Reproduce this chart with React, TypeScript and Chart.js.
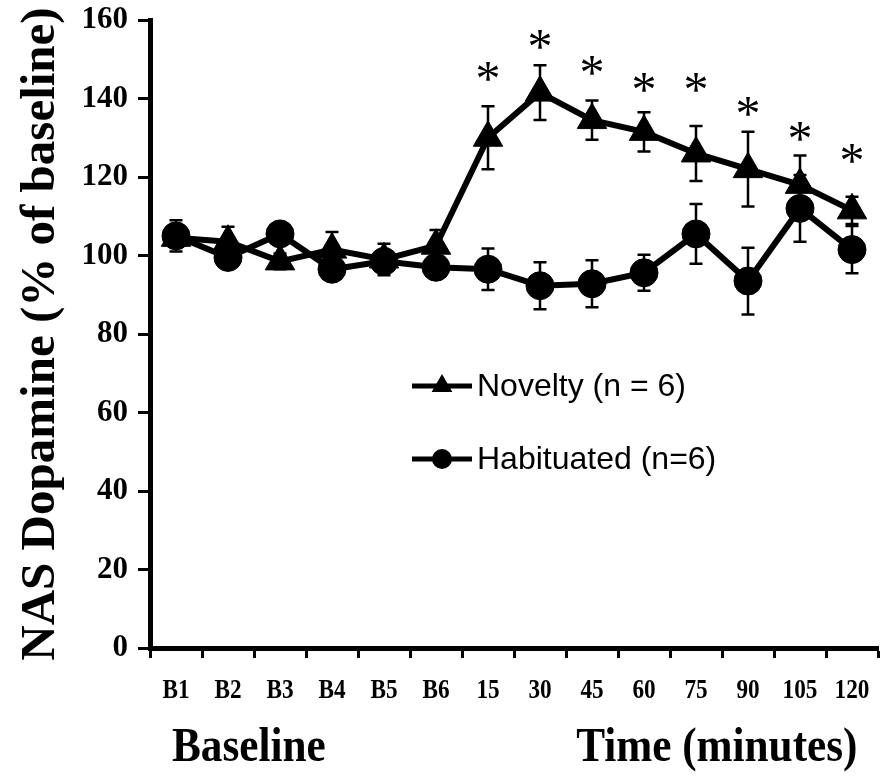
import React, { useEffect, useRef } from "react";
import { Chart, registerables } from "chart.js";

Chart.register(...registerables);

// Sampling points: six baseline samples, then minutes after exposure
const timeLabels = ["B1", "B2", "B3", "B4", "B5", "B6", "15", "30", "45", "60", "75", "90", "105", "120"];

// NAS dopamine, % of baseline (mean and SEM)
const noveltyMean = [104.5, 103.5, 98.5, 101.5, 99, 102.5, 130, 141.5, 134.5, 131.5, 126, 122, 118, 111.5];
const noveltySem = [2.5, 3.8, 2, 4.5, 4, 4, 8, 7, 5, 5, 7, 9.5, 7.5, 3.5];
const habituatedMean = [105, 99.5, 105.5, 96.5, 98.5, 97, 96.5, 92.3, 92.8, 95.6, 105.5, 93.5, 112, 101.5];
const habituatedSem = [4, 2, 2, 2, 2, 2, 5.3, 6, 6, 4.6, 7.6, 8.5, 8.5, 6];

// Level (in % of baseline) at which each significance asterisk is printed
const significanceLevel = [null, null, null, null, null, null, 147, 155, 148.5, 144, 144, 138, 131.5, 126];

const seriesNames = ["Novelty (n = 6)", "Habituated (n=6)"];
const yAxisTitle = "NAS Dopamine (% of baseline)";
const yMin = 0;
const yMax = 160;
const yStep = 20;

// Phase captions under the x axis, anchored at a category position
const phaseCaptions = ["Baseline", "Time (minutes)"];
const phaseAnchors = [1.4, 10.4];

const SERIF = "'Liberation Serif', 'Times New Roman', serif";
const SANS = "'Liberation Sans', Arial, sans-serif";

function drawMarker(ctx: CanvasRenderingContext2D, style: string, x: number, y: number, r: number) {
  ctx.beginPath();
  if (style === "triangle") {
    ctx.moveTo(x, y - r);
    ctx.lineTo(x + r * 0.866, y + r / 2);
    ctx.lineTo(x - r * 0.866, y + r / 2);
    ctx.closePath();
  } else {
    ctx.arc(x, y, r, 0, Math.PI * 2);
  }
  ctx.fill();
}

// Condensed text: draw with a horizontal squeeze around the anchor point
function condensedText(ctx: CanvasRenderingContext2D, text: string, x: number, y: number, squeeze: number) {
  ctx.save();
  ctx.translate(x, y);
  ctx.scale(squeeze, 1);
  ctx.fillText(text, 0, 0);
  ctx.restore();
}

const errorBarPlugin = {
  id: "errorBars",
  beforeDatasetsDraw(chart: any, _args: any, opts: any) {
    const { ctx } = chart;
    const yScale = chart.scales.y;
    const sems: number[][] = opts.sems || [];
    ctx.save();
    ctx.strokeStyle = "#000";
    ctx.lineWidth = 2.5;
    chart.data.datasets.forEach((ds: any, di: number) => {
      const meta = chart.getDatasetMeta(di);
      const errs = sems[di];
      if (!errs) return;
      meta.data.forEach((pt: any, i: number) => {
        const v = ds.data[i];
        const e = errs[i];
        const yTop = yScale.getPixelForValue(v + e);
        const yBot = yScale.getPixelForValue(v - e);
        const x = pt.x;
        const cap = 6.5;
        ctx.beginPath();
        ctx.moveTo(x, yTop);
        ctx.lineTo(x, yBot);
        ctx.moveTo(x - cap, yTop);
        ctx.lineTo(x + cap, yTop);
        ctx.moveTo(x - cap, yBot);
        ctx.lineTo(x + cap, yBot);
        ctx.stroke();
      });
    });
    ctx.restore();
  },
};

const asteriskPlugin = {
  id: "asterisks",
  afterDatasetsDraw(chart: any, _args: any, opts: any) {
    const { ctx } = chart;
    const xScale = chart.scales.x;
    const yScale = chart.scales.y;
    const levels: (number | null)[] = opts.levels || [];
    ctx.save();
    ctx.fillStyle = "#000";
    ctx.font = `50px ${SERIF}`;
    ctx.textAlign = "center";
    ctx.textBaseline = "alphabetic";
    const m = ctx.measureText("*");
    const mid = (m.actualBoundingBoxAscent - m.actualBoundingBoxDescent) / 2;
    levels.forEach((lv, i) => {
      if (lv == null) return;
      const x = xScale.getPixelForValue(i);
      const y = yScale.getPixelForValue(lv);
      ctx.fillText("*", x, y + mid);
    });
    ctx.restore();
  },
};

const insetLegendPlugin = {
  id: "insetLegend",
  afterDraw(chart: any) {
    const { ctx, chartArea } = chart;
    const x0 = chartArea.left + 262;
    const lineLen = 60;
    const rows = [chartArea.top + 366, chartArea.top + 439];
    ctx.save();
    chart.data.datasets.forEach((ds: any, di: number) => {
      const y = rows[di];
      ctx.strokeStyle = "#000";
      ctx.fillStyle = "#000";
      ctx.lineWidth = 5;
      ctx.beginPath();
      ctx.moveTo(x0, y);
      ctx.lineTo(x0 + lineLen, y);
      ctx.stroke();
      drawMarker(ctx, ds.pointStyle, x0 + lineLen / 2, y, ds.pointStyle === "triangle" ? 12 : 10);
      ctx.font = `32px ${SANS}`;
      ctx.textAlign = "left";
      ctx.textBaseline = "middle";
      ctx.fillText(ds.label, x0 + lineLen + 5, y + 1);
    });
    ctx.restore();
  },
};

// Category labels and phase captions in a condensed bold serif
const xTextPlugin = {
  id: "xText",
  afterDraw(chart: any) {
    const { ctx } = chart;
    const xScale = chart.scales.x;
    const axisY = xScale.top;
    ctx.save();
    ctx.fillStyle = "#000";
    ctx.textAlign = "center";
    ctx.textBaseline = "alphabetic";
    ctx.font = `bold 27px ${SERIF}`;
    timeLabels.forEach((t, i) => {
      condensedText(ctx, t, xScale.getPixelForValue(i), axisY + 50, 0.86);
    });
    ctx.font = `bold 48px ${SERIF}`;
    phaseCaptions.forEach((t, i) => {
      condensedText(ctx, t, xScale.getPixelForValue(phaseAnchors[i]), axisY + 113, 0.9);
    });
    ctx.restore();
  },
};

export default function App() {
  const canvasRef = useRef<HTMLCanvasElement | null>(null);

  useEffect(() => {
    if (!canvasRef.current) return;
    const chart = new Chart(canvasRef.current, {
      type: "line",
      data: {
        labels: timeLabels,
        datasets: [
          {
            label: seriesNames[0],
            data: noveltyMean,
            borderColor: "#000",
            backgroundColor: "#000",
            borderWidth: 6,
            pointStyle: "triangle",
            pointRadius: 17,
            pointBorderWidth: 1,
            pointBackgroundColor: "#000",
            pointBorderColor: "#000",
            tension: 0,
          },
          {
            label: seriesNames[1],
            data: habituatedMean,
            borderColor: "#000",
            backgroundColor: "#000",
            borderWidth: 6,
            pointStyle: "circle",
            pointRadius: 14,
            pointBorderWidth: 1,
            pointBackgroundColor: "#000",
            pointBorderColor: "#000",
            tension: 0,
          },
        ],
      },
      options: {
        responsive: false,
        animation: false,
        layout: { autoPadding: false, padding: { top: 20, right: 6, left: 0, bottom: 0 } },
        plugins: {
          legend: { display: false },
          tooltip: { enabled: false },
          errorBars: { sems: [noveltySem, habituatedSem] },
          asterisks: { levels: significanceLevel },
        } as any,
        scales: {
          x: {
            type: "category",
            offset: true,
            grid: {
              offset: true,
              drawOnChartArea: false,
              drawTicks: true,
              tickLength: 10,
              tickWidth: 3,
              color: "#000",
            },
            border: { display: true, color: "#000", width: 5 },
            ticks: { display: false, autoSkip: false },
            afterFit(scale: any) {
              scale.height = 130;
              scale.paddingLeft = 0;
              scale.paddingRight = 0;
            },
          },
          y: {
            min: yMin,
            max: yMax,
            grid: {
              drawOnChartArea: false,
              drawTicks: true,
              tickLength: 12,
              tickWidth: 3,
              color: "#000",
            },
            border: { display: true, color: "#000", width: 5 },
            ticks: {
              stepSize: yStep,
              color: "#000",
              font: { family: SERIF, weight: "bold", size: 31 },
              padding: 10,
            },
            title: {
              display: true,
              text: yAxisTitle,
              color: "#000",
              font: { family: SERIF, weight: "bold", size: 49 },
              padding: { top: 12, bottom: 0 },
            },
            afterFit(scale: any) {
              scale.width = 150;
              scale.paddingTop = 0;
              scale.paddingBottom = 0;
            },
          },
        },
      },
      plugins: [errorBarPlugin, asteriskPlugin, insetLegendPlugin, xTextPlugin],
    });
    return () => chart.destroy();
  }, []);

  return (
    <div style={{ position: "absolute", left: 0, top: 0, width: 884, height: 778, background: "#fff" }}>
      <canvas ref={canvasRef} width={884} height={778} />
    </div>
  );
}
